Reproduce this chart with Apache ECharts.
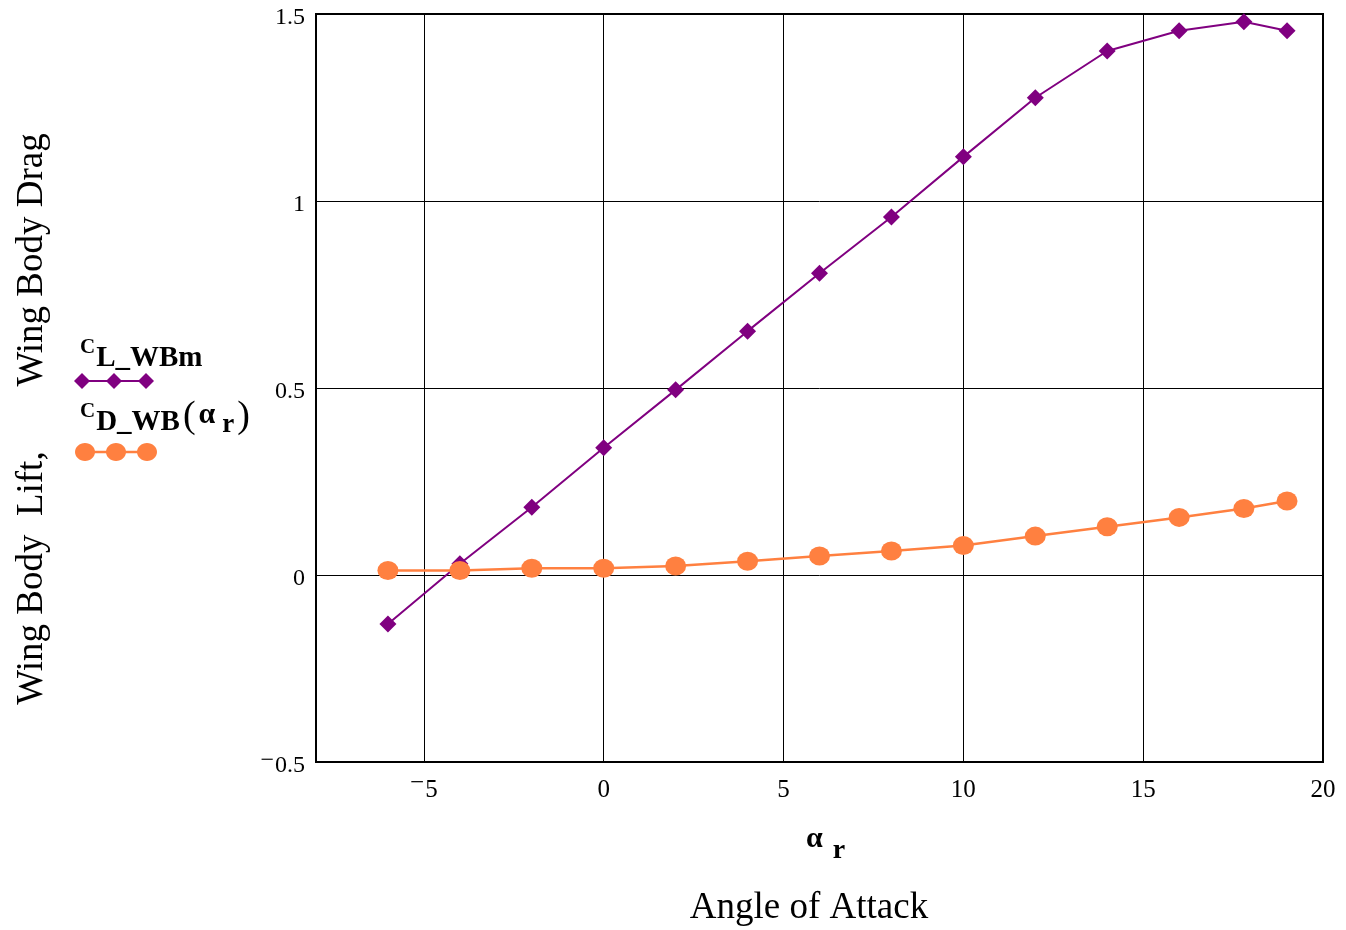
<!DOCTYPE html>
<html>
<head>
<meta charset="utf-8">
<script src="https://cdn.jsdelivr.net/npm/echarts@6/dist/echarts.min.js"></script>
<style>
  html, body { margin: 0; padding: 0; background: #fff; }
  #main { width: 1346px; height: 930px; }
</style>
</head>
<body>
<div id="main"></div>
<script>
// angle of attack (deg)
let alpha = [-6, -4, -2, 0, 2, 4, 6, 8, 10, 12, 14, 16, 17.8, 19]
// wing body lift coefficient
let clWB = [-0.131, 0.030, 0.181, 0.340, 0.495, 0.652, 0.807, 0.957, 1.118, 1.276, 1.401, 1.455, 1.479, 1.455]
// wing body drag coefficient
let cdWB = [0.012, 0.012, 0.018, 0.018, 0.024, 0.037, 0.051, 0.064, 0.079, 0.104, 0.129, 0.154, 0.178, 0.198]
// tick labels
let xTicks = [-5, 0, 5, 10, 15, 20]
let yTicks = [-0.5, 0, 0.5, 1, 1.5]

const serif = '"Liberation Serif", "DejaVu Serif", serif'
const purple = '#800080'
const orange = '#FF8040'

// mathcad style raised minus
function fmt(v){
    return v < 0 ? '{m|\u2212}{n|' + Math.abs(v) + '}' : '{n|' + v + '}'
}
function tickRich(size, raise){
    return {
        m: { fontFamily: serif, fontSize: size, color: '#000', padding: [0, 1, raise * 2, 0], verticalAlign: 'middle' },
        n: { fontFamily: serif, fontSize: size, color: '#000', padding: [raise, 0, raise, 0], verticalAlign: 'middle' }
    }
}
// rich token helper
function tk(size, bold, pad){
    return { fontFamily: serif, fontSize: size, fontWeight: bold ? 'bold' : 'normal', color: '#000', padding: pad }
}

let chart = echarts.init(document.getElementById('main'))

let option = {
    animation: false,
    grid: {
        left: 316,
        right: 23,
        top: 14,
        bottom: 168,
        show: true,
        borderColor: '#000',
        borderWidth: 2
    },
    xAxis: {
        type: 'value',
        min: -8,
        max: 20,
        axisLine: { show: true, onZero: false, lineStyle: { color: '#000', width: 2 } },
        axisTick: { show: false, customValues: xTicks },
        axisLabel: {
            customValues: xTicks,
            margin: 9,
            formatter: fmt,
            rich: tickRich(25, 7)
        },
        splitLine: { show: true, lineStyle: { color: '#000', width: 1 } }
    },
    yAxis: {
        type: 'value',
        min: -0.5,
        max: 1.5,
        interval: 0.5,
        axisLine: { show: true, onZero: false, lineStyle: { color: '#000', width: 2 } },
        axisTick: { show: false },
        axisLabel: {
            margin: 11,
            padding: [8, 0, 0, 0],
            formatter: fmt,
            rich: tickRich(24, 5)
        },
        splitLine: { show: true, lineStyle: { color: '#000', width: 1 } }
    },
    series: [
        {
            name: 'C_L_WBm',
            type: 'line',
            data: alpha.map((a, i) => [a, clWB[i]]),
            symbol: 'diamond',
            symbolSize: [17, 17],
            lineStyle: { color: purple, width: 2 },
            itemStyle: { color: purple },
            z: 3
        },
        {
            name: 'C_D_WB',
            type: 'line',
            data: alpha.map((a, i) => [a, cdWB[i]]),
            symbol: 'circle',
            symbolSize: [21, 19],
            lineStyle: { color: orange, width: 2.5 },
            itemStyle: { color: orange },
            z: 4
        }
    ],
    graphic: [
        // y axis title
        {
            type: 'text',
            x: 32, y: 419,
            rotation: Math.PI / 2,
            style: {
                text: 'Wing Body  Lift,       Wing Body Drag',
                font: '37px ' + serif,
                fill: '#000',
                align: 'center',
                verticalAlign: 'middle'
            }
        },
        // legend entry 1
        {
            type: 'text',
            x: 80, y: 355,
            style: {
                text: '{c|C}{s|L_WBm}',
                fill: '#000',
                verticalAlign: 'middle',
                rich: {
                    c: tk(21, true, [0, 1, 14, 0]),
                    s: tk(29, true, [8, 0, 0, 0])
                }
            }
        },
        { type: 'line', shape: { x1: 82, y1: 381, x2: 146, y2: 381 }, style: { stroke: purple, lineWidth: 2 } },
        { type: 'polygon', shape: { points: [[74, 381], [82, 373], [90, 381], [82, 389]] }, style: { fill: purple } },
        { type: 'polygon', shape: { points: [[106, 381], [114, 373], [122, 381], [114, 389]] }, style: { fill: purple } },
        { type: 'polygon', shape: { points: [[138, 381], [146, 373], [154, 381], [146, 389]] }, style: { fill: purple } },
        // legend entry 2
        {
            type: 'text',
            x: 80, y: 419,
            style: {
                text: '{c|C}{s|D_WB}{p|(}{a|\u03b1}{r|r}{p|)}',
                fill: '#000',
                verticalAlign: 'middle',
                rich: {
                    c: tk(21, true, [0, 1, 14, 0]),
                    s: tk(29, true, [8, 0, 0, 0]),
                    p: tk(38, false, [0, 3, 4, 3]),
                    a: tk(30, true, [0, 7, 8, 0]),
                    r: tk(27, true, [12, 0, 0, 0])
                }
            }
        },
        { type: 'line', shape: { x1: 85, y1: 452, x2: 147, y2: 452 }, style: { stroke: orange, lineWidth: 2.5 } },
        { type: 'ellipse', shape: { cx: 85, cy: 452, rx: 10, ry: 9 }, style: { fill: orange } },
        { type: 'ellipse', shape: { cx: 116, cy: 452, rx: 10, ry: 9 }, style: { fill: orange } },
        { type: 'ellipse', shape: { cx: 147, cy: 452, rx: 10, ry: 9 }, style: { fill: orange } },
        // x axis variable
        {
            type: 'text',
            x: 806, y: 845,
            style: {
                text: '{a|\u03b1}{r|r}',
                fill: '#000',
                verticalAlign: 'middle',
                rich: {
                    a: tk(30, true, [0, 10, 12, 0]),
                    r: tk(28, true, [12, 0, 0, 0])
                }
            }
        },
        // x axis title
        {
            type: 'text',
            x: 809, y: 908,
            style: {
                text: 'Angle of Attack',
                font: '37px ' + serif,
                fill: '#000',
                align: 'center',
                verticalAlign: 'middle'
            }
        }
    ]
}

chart.setOption(option)
</script>
</body>
</html>
